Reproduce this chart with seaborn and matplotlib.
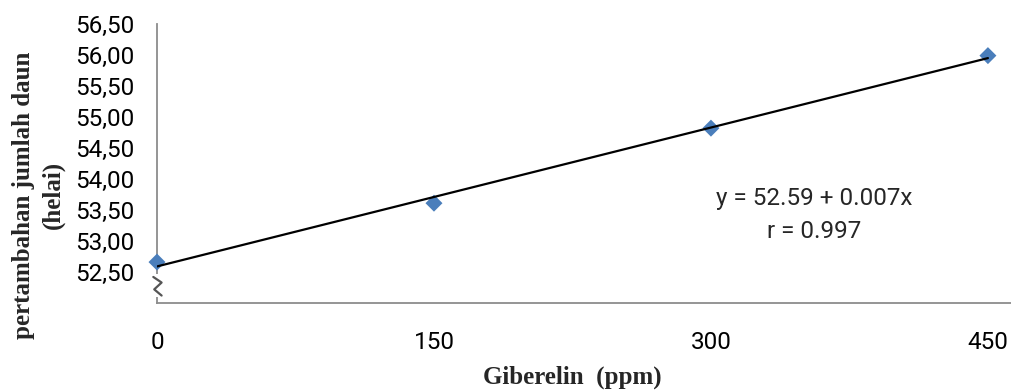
import numpy as np
import pandas as pd
import matplotlib
matplotlib.use("Agg")
import matplotlib.pyplot as plt
from matplotlib.ticker import FuncFormatter
from matplotlib.patches import Rectangle
import seaborn as sns

# data
giberelin = [0, 150, 300, 450]
daun = [52.66, 53.61, 54.82, 55.99]
x_ticks = [0, 150, 300, 450]
y_ticks = [52.0, 52.5, 53.0, 53.5, 54.0, 54.5, 55.0, 55.5, 56.0, 56.5]
eq_lines = ["y = 52.59 + 0.007x", "r = 0.997"]

df = pd.DataFrame({"giberelin": giberelin, "daun": daun})

sns.set_style("white")
plt.rcParams["font.family"] = ["Roboto", "DejaVu Sans"]

grey = "#8c8c8c"
fig = plt.figure(figsize=(10.11, 3.92), dpi=100)
ax = fig.add_axes([157 / 1011, 89 / 392, 854 / 1011, 279 / 392])

sns.regplot(data=df, x="giberelin", y="daun", ax=ax, ci=None, marker="D",
            scatter_kws={"s": 75, "color": "#4a7ebb", "edgecolors": "none",
                         "alpha": 1, "clip_on": False, "zorder": 3},
            line_kws={"color": "black", "linewidth": 1.6, "zorder": 4})

ax.set_xlim(0, 462.5)
ax.set_ylim(52.0, 56.5)
ax.set_xticks(x_ticks)
ax.set_yticks(y_ticks)
ax.yaxis.set_major_formatter(FuncFormatter(
    lambda v, p: "" if abs(v - 52.0) < 1e-6 else f"{v:.2f}".replace(".", ",")))

for s in ["top", "right"]:
    ax.spines[s].set_visible(False)
for s in ["left", "bottom"]:
    ax.spines[s].set_color(grey)
    ax.spines[s].set_linewidth(1.3)

ax.tick_params(axis="both", direction="out", length=6, width=1.3, color=grey,
               labelsize=17.5, labelcolor="black")
ax.tick_params(axis="y", pad=10)
ax.tick_params(axis="x", pad=14)

serif = ["Liberation Serif", "DejaVu Serif"]
ax.set_xlabel("Giberelin  (ppm)", fontsize=18, fontweight="bold", family=serif)
ax.xaxis.label.set_va("center")
ax.xaxis.set_label_coords(0.486, -0.265)
ax.set_ylabel("pertambahan jumlah daun\n(helai)", fontsize=18, fontweight="bold",
              family=serif, linespacing=1.35)
ax.yaxis.label.set_va("center")
ax.yaxis.set_label_coords(-0.139, 0.387)

# regression equation
ax.text(356, 53.69, eq_lines[0], ha="center", va="center", fontsize=17.5)
ax.text(356, 53.15, eq_lines[1], ha="center", va="center", fontsize=17.5)

# axis break marker on the y axis
ax.add_patch(Rectangle((-2.5, 52.09), 15, 0.38, facecolor="white", edgecolor="none",
                       clip_on=False, zorder=5))
ax.plot([-2, 2.5, -1.5, 2.5], [52.42, 52.33, 52.22, 52.12], color="#555555",
        linewidth=1.6, clip_on=False, zorder=6)

fig.savefig("out.png", dpi=100)
